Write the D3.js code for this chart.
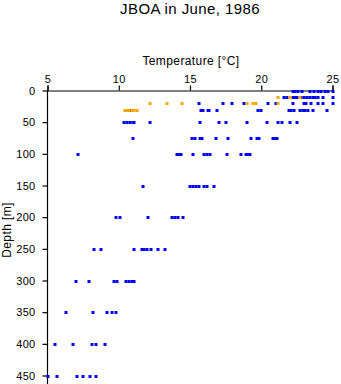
<!DOCTYPE html>
<html><head><meta charset="utf-8">
<script src="https://cdn.jsdelivr.net/npm/d3@7"></script>
<style>body{margin:0;background:#fff}svg{display:block}text{font-family:"Liberation Sans",Arial,sans-serif;fill:#000}</style>
</head><body>
<script>
const title = "JBOA in June, 1986";
const xLabel = "Temperature [°C]";
const yLabel = "Depth [m]";
const xTicks = [5, 10, 15, 20, 25];
const yTicks = [0, 50, 100, 150, 200, 250, 300, 350, 400, 450];
const depths = [0, 10, 20, 30, 50, 75, 100, 150, 200, 250, 300, 350, 400, 450];
const blueTemps = [
  [22.2, 22.4, 22.6, 22.85, 23.4, 23.7, 24.0, 24.2, 24.5, 24.7, 25.0],
  [21.6, 21.8, 22.2, 22.35, 22.5, 22.8, 23.0, 23.2, 23.4, 23.6, 23.8, 24.0, 24.35, 25.0],
  [15.6, 17.35, 17.97, 18.76, 20.5, 21.0, 22.2, 23.0, 23.15, 23.5, 24.0, 24.3, 25.0],
  [10.85, 15.75, 15.9, 16.25, 16.35, 16.9, 19.75, 19.95, 21.95, 22.1, 22.3, 22.75, 22.95, 23.1, 23.3, 23.6, 24.6],
  [10.4, 10.6, 10.8, 11.0, 11.1, 12.2, 15.7, 17.0, 17.5, 19.0, 20.4, 21.2, 21.45, 22.0, 22.5],
  [11.0, 15.15, 15.35, 15.7, 15.85, 16.8, 17.7, 19.3, 19.7, 19.85, 20.8, 20.95, 21.1],
  [7.17, 14.1, 14.25, 14.4, 15.2, 16.0, 16.2, 16.4, 17.6, 18.6, 18.9, 19.05, 19.2],
  [11.7, 15.0, 15.2, 15.4, 15.6, 16.0, 16.2, 16.65],
  [9.8, 10.1, 12.08, 13.75, 13.95, 14.15, 14.5],
  [8.27, 8.78, 11.1, 11.6, 11.8, 12.0, 12.25, 12.75, 13.28],
  [7.0, 7.9, 9.65, 9.85, 10.5, 10.7, 10.9, 11.1],
  [6.3, 8.2, 9.2, 9.5, 9.8],
  [5.5, 6.8, 8.1, 8.4, 9.0],
  [5.0, 5.7, 7.1, 7.5, 8.0, 8.4]
];
const orangeDepths = [10, 20, 30];
const orangeTemps = [
  [21.2, 22.0, 22.7],
  [12.2, 13.4, 14.47, 19.0, 19.45, 19.6, 21.2],
  [10.45, 10.6, 10.75, 10.95, 11.1, 11.27]
];

const W = 341, H = 384;
const svg = d3.select("body").append("svg").attr("width", W).attr("height", H);
const x = d3.scaleLinear().domain([5, 25]).range([47.5, 332.5]);
const y = d3.scaleLinear().domain([0, 450]).range([90.5, 375.5]);

svg.append("text").attr("x", 190).attr("y", 14).attr("text-anchor", "middle")
  .style("font-size", "15px").style("letter-spacing", "0.4px").text(title);
svg.append("text").attr("x", 191).attr("y", 65).attr("text-anchor", "middle")
  .style("font-size", "12px").style("letter-spacing", "0.4px").text(xLabel);
svg.append("text").attr("transform", "translate(11,230) rotate(-90)").attr("text-anchor", "middle")
  .style("font-size", "12px").style("letter-spacing", "0.4px").text(yLabel);

const xAxis = svg.append("g").attr("transform", "translate(0,90.5)")
  .call(d3.axisTop(x).tickValues(xTicks).tickSize(5).tickPadding(3).tickFormat(d3.format("d")));
const yAxis = svg.append("g").attr("transform", "translate(47.5,0)")
  .call(d3.axisLeft(y).tickValues(yTicks).tickSize(5).tickPadding(7).tickFormat(d3.format("d")));
[xAxis, yAxis].forEach(a => {
  a.select(".domain").attr("stroke", "#000").attr("stroke-width", 1.2);
  a.selectAll(".tick line").attr("stroke", "#000").attr("stroke-width", 1.2);
  a.selectAll("text").style("font-size", "11px").style("letter-spacing", "0.3px")
    .style("font-family", "'Liberation Sans',Arial,sans-serif");
});
yAxis.select(".domain").attr("d", "M0,90.5V384");

const bluePts = [];
depths.forEach((d, i) => blueTemps[i].forEach(t => bluePts.push([t, d])));
const orangePts = [];
orangeDepths.forEach((d, i) => orangeTemps[i].forEach(t => orangePts.push([t, d])));

function draw(pts, color) {
  svg.append("g").selectAll("rect").data(pts).join("rect")
    .attr("x", p => Math.round(x(p[0])) - 1.5)
    .attr("y", p => Math.round(y(p[1])) - 1)
    .attr("width", 3).attr("height", 3)
    .attr("fill", color);
}
draw(bluePts, "#0000ff");
draw(orangePts, "#ffa500");
</script>
</body></html>
